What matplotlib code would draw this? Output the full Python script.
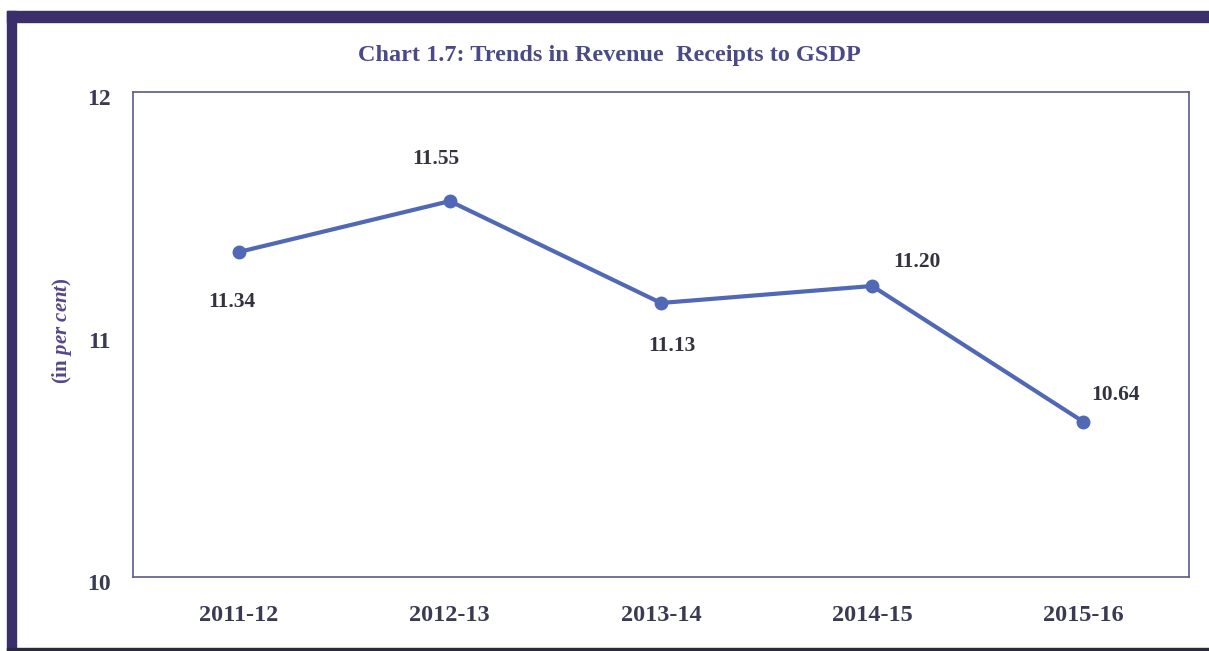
import matplotlib.pyplot as plt
from matplotlib.patches import Rectangle
from matplotlib.transforms import ScaledTranslation

years = ["2011-12", "2012-13", "2013-14", "2014-15", "2015-16"]
ratio = [11.34, 11.55, 11.13, 11.20, 10.64]
yticks = [10, 11, 12]

plt.rcParams['font.family'] = ['Liberation Serif', 'DejaVu Serif']
plt.rcParams['mathtext.fontset'] = 'custom'
plt.rcParams['mathtext.rm'] = 'Liberation Serif:bold'
plt.rcParams['mathtext.bf'] = 'Liberation Serif:bold'
plt.rcParams['mathtext.it'] = 'Liberation Serif:italic:bold'

W, H = 1209, 651
fig = plt.figure(figsize=(W / 100, H / 100), dpi=100)
fig.patch.set_facecolor('white')

# outer frame: heavy bar on the top and left, thin line at the bottom
frame_col = '#3b2f6b'
fig.add_artist(Rectangle((7 / W, 1 - 22 / H), (W - 7) / W, 11 / H,
                         transform=fig.transFigure, color=frame_col, zorder=0))
fig.add_artist(Rectangle((7 / W, 0), 9 / W, 1 - 11 / H,
                         transform=fig.transFigure, color=frame_col, zorder=0))
fig.add_artist(Rectangle((7 / W, 0), (W - 7) / W, 3 / H,
                         transform=fig.transFigure, color='#2a2a3a', zorder=0))

ax = fig.add_axes([133 / W, 1 - 577 / H, (1189 - 133) / W, (577 - 92) / H])
x = list(range(len(years)))
line_col = '#5068b6'
ax.plot(x, ratio, color=line_col, lw=3, marker='o', ms=9,
        markerfacecolor=line_col, markeredgecolor=line_col)

ax.set_xlim(-0.5, len(years) - 0.5)
ax.set_ylim(10, 12)
ax.set_yticks(yticks)
ax.set_yticklabels([str(v) for v in yticks])
ax.set_xticks(x)
ax.set_xticklabels(years)

ax.tick_params(axis='both', length=0)
ax.tick_params(axis='x', pad=20)
ax.tick_params(axis='y', pad=16)

tick_col = '#3a3a55'
for lab in ax.get_xticklabels():
    lab.set_fontweight('bold')
    lab.set_fontsize(17.5)
    lab.set_color(tick_col)
# y labels sit a few pixels below their values
shift_down = ScaledTranslation(0, -5 / 100, fig.dpi_scale_trans)
for tick in ax.yaxis.get_major_ticks():
    lab = tick.label1
    lab.set_fontweight('bold')
    lab.set_fontsize(17)
    lab.set_color(tick_col)
    lab.set_transform(lab.get_transform() + shift_down)

for s in ax.spines.values():
    s.set_color('#5a5a8a')
    s.set_linewidth(1.2)

# value labels beside each point (offsets in points)
offsets = [(-5, -36), (-10, 30), (8, -31), (32, 17), (23, 19)]
for xi, v, (dx, dy) in zip(x, ratio, offsets):
    ax.annotate(f"{v:.2f}", (xi, v), xytext=(dx, dy), textcoords='offset points',
                ha='center', va='center', fontsize=15.5, fontweight='bold',
                color='#333340')

fig.text(609 / W, 1 - 55 / H, "Chart 1.7: Trends in Revenue  Receipts to GSDP",
         ha='center', va='center', fontsize=17.5, fontweight='bold',
         color='#4a4a88')

fig.text(62 / W, 1 - 331 / H, r"(in $\it{per\ cent}$)", rotation=90,
         ha='center', va='center', fontsize=15, fontweight='bold',
         color='#55468a')

fig.savefig('out.png', dpi=100)
